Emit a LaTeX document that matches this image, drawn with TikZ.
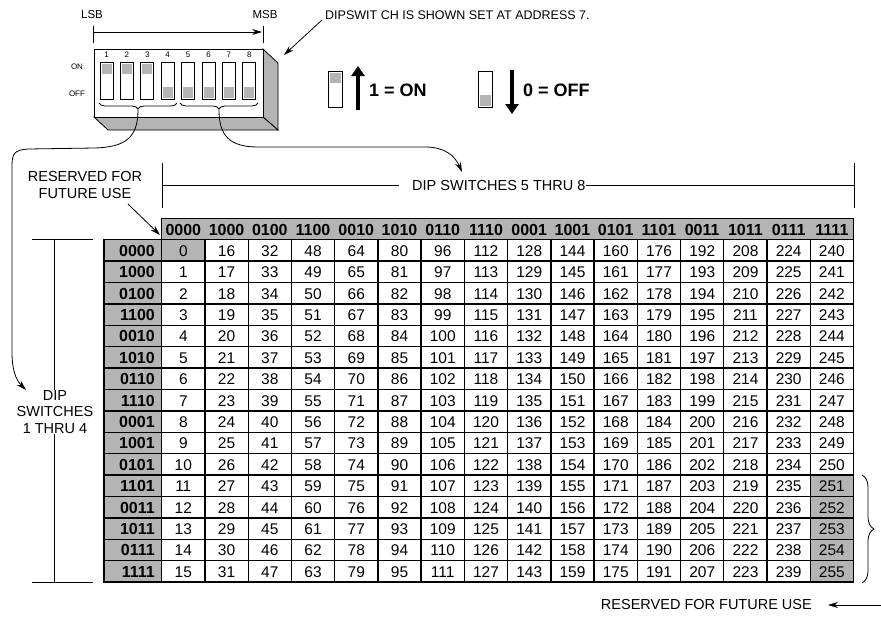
\documentclass[tikz,border=0pt]{standalone}
\usepackage{fontspec}
\setmainfont{Liberation Sans}
\usetikzlibrary{decorations.pathreplacing,arrows.meta,calc}
\definecolor{swgray}{RGB}{180,180,180}
\begin{document}
\begin{tikzpicture}[x=1pt,y=-1pt,
  tbl/.style={font=\fontsize{15.5}{16}\selectfont, inner sep=0pt, anchor=base},
  tblb/.style={font=\fontsize{16}{16}\selectfont\bfseries, inner sep=0pt, anchor=base},
  tiny/.style={font=\fontsize{8}{9}\selectfont, inner sep=0pt},
  lbl/.style={font=\fontsize{11.5}{13}\selectfont, inner sep=0pt},
  note/.style={font=\fontsize{12.5}{14}\selectfont, inner sep=0pt},
  anno/.style={font=\fontsize{14.5}{16.5}\selectfont, inner sep=0pt, align=center},
  legend/.style={font=\fontsize{18}{19}\selectfont\bfseries, inner sep=0pt},
  gridline/.style={line width=1.3pt},
  thinline/.style={line width=0.8pt},
  arr/.style={-{Stealth[length=10pt,width=6pt]}, line width=0.8pt},
  bigarr/.style={-{Triangle[length=10pt,width=13pt]}, line width=4.5pt}
]
\fill[white] (0,0) rectangle (881,616);
\useasboundingbox (0,0) rectangle (881,616);

% ---------------- DIP switch ----------------
\node[lbl] (lsb) at (92,15) {LSB};
\node[lbl] (msb) at (265,15) {MSB};
\draw[thinline] (93,26) -- (93,43);
\draw[thinline] (263,26) -- (263,43);
\coordinate (ab1) at (93,32);
\coordinate (ab2) at (262,32);
\draw[arr] (ab1) -- (ab2);

\filldraw[fill=swgray,draw=black,thinline] (263,49) -- (278,63) -- (278,130) -- (263,117) -- cycle;
\filldraw[fill=swgray,draw=black,thinline] (94,117) -- (263,117) -- (278,130) -- (108,130) -- cycle;
\filldraw[fill=white,draw=black,thinline] (94,49) rectangle (263,117);

\node[tiny] (on) at (77,67) {ON};
\node[tiny] (off) at (77,94) {OFF};
\foreach \k in {1,...,8}{
  \pgfmathsetmacro\xl{100+20.4*(\k-1)}
  \node[tiny] (n\k) at ({\xl+6.5},55) {\k};
  \draw[thinline,fill=white] (\xl,62) rectangle ({\xl+13},99);
}
\foreach \k in {1,2,3}{
  \pgfmathsetmacro\xl{100+20.4*(\k-1)}
  \fill[swgray] ({\xl+1.5},63.5) rectangle ({\xl+11.5},74);
}
\foreach \k in {4,...,8}{
  \pgfmathsetmacro\xl{100+20.4*(\k-1)}
  \fill[swgray] ({\xl+1.5},87) rectangle ({\xl+11.5},97.5);
}
\draw[thinline,decorate,decoration={brace,mirror,amplitude=6pt}] (99,103) -- (177,103);
\draw[thinline,decorate,decoration={brace,mirror,amplitude=6pt}] (180,103) -- (258,103);
\coordinate (b1) at (138,110);
\coordinate (b2) at (219,110);

% annotation
\node[note,anchor=west] (dsnote) at (325,15) {DIPSWIT CH IS SHOWN SET AT ADDRESS 7.};
\coordinate (dsa) at (322,20);
\coordinate (dsb) at (284,55);
\draw[arr] (dsa) -- (dsb);

% legend
\draw[thinline,fill=white] (328,71) rectangle (342,107);
\fill[swgray] (329.5,72.5) rectangle (340.5,83);
\coordinate (ua1) at (358,110);
\coordinate (ua2) at (358,66);
\draw[bigarr] (ua1) -- (ua2);
\node[legend,anchor=west] (one) at (369,90) {1 = ON};
\draw[thinline,fill=white] (478,71) rectangle (492,107);
\fill[swgray] (479.5,95) rectangle (490.5,105.5);
\coordinate (da1) at (512,70);
\coordinate (da2) at (512,114);
\draw[bigarr] (da1) -- (da2);
\node[legend,anchor=west] (zero) at (523,90) {0 = OFF};

% ---------------- brackets ----------------
\node[anno] (res1) at (85,185) {RESERVED FOR\\FUTURE USE};
\coordinate (ra1) at (128,204);
\coordinate (ra2) at (160,235);
\draw[arr] (ra1) -- (ra2);

\draw[thinline] (162,163) -- (162,208);
\draw[thinline] (854,163) -- (854,208);
\node[anno,anchor=west] (ds58) at (412,186) {DIP SWITCHES 5 THRU 8};
\draw[thinline] (162,185) -- (399,185);
\draw[thinline] (ds58.east |- 0,185) -- (854,185);

\node[anno] (ds14) at (55,412) {DIP\\SWITCHES\\1 THRU 4};
\draw[thinline] (32,239.5) -- (93,239.5);
\draw[thinline] (32,582) -- (93,582);
\draw[thinline] (54,239.5) -- (ds14.north -| 54,0);
\draw[thinline] (ds14.south -| 54,0) -- (54,582);

% curved connectors from switch braces
\coordinate (t14) at (26,390);
\coordinate (t58) at (462,172);
\draw[arr] (b1) .. controls (138,138) and (125,147) .. (95,148)
  -- (28,149) .. controls (14,150) and (12,154) .. (12,166)
  -- (12,352) .. controls (12,370) and (16,380) .. (t14);
\draw[arr] (b2) .. controls (219,136) and (230,147) .. (258,147)
  -- (425,147) .. controls (445,147) and (455,156) .. (t58);

% ---------------- table ----------------
\fill[swgray] (104,239.7) rectangle (161.7,582.1);
\fill[swgray] (161.7,218.3) rectangle (853.6,239.7);
\fill[swgray] (161.7,239.7) rectangle (204.94,261.1);
\fill[swgray] (810.36,475.1) rectangle (853.6,582.1);

\foreach \i in {1,...,15}
  \draw[gridline] (104,{239.7+21.4*\i}) -- (853.6,{239.7+21.4*\i});
\foreach \j in {1,...,15}
  \draw[gridline] ({161.7+43.24*\j},239.7) -- ({161.7+43.24*\j},582.1);
\draw[gridline] (161.7,218.3) rectangle (853.6,582.1);
\draw[gridline] (104,239.7) rectangle (853.6,582.1);

\foreach \j in {0,...,15}{
  \pgfmathtruncatemacro\ba{mod(\j,2)}
  \pgfmathtruncatemacro\bb{mod(floor(\j/2),2)}
  \pgfmathtruncatemacro\bc{mod(floor(\j/4),2)}
  \pgfmathtruncatemacro\bd{mod(floor(\j/8),2)}
  \node[tblb] (h\j) at ({183.32+43.24*\j},235) {\ba\bb\bc\bd};
}
\foreach \i in {0,...,15}{
  \pgfmathtruncatemacro\ba{mod(\i,2)}
  \pgfmathtruncatemacro\bb{mod(floor(\i/2),2)}
  \pgfmathtruncatemacro\bc{mod(floor(\i/4),2)}
  \pgfmathtruncatemacro\bd{mod(floor(\i/8),2)}
  \node[tblb,anchor=base east] (r\i) at (155,{256.3+21.4*\i}) {\ba\bb\bc\bd};
  \foreach \j in {0,...,15}{
    \pgfmathtruncatemacro\v{16*\j+\i}
    \node[tbl] (c\i-\j) at ({183.32+43.24*\j},{256.2+21.4*\i}) {\v};
  }
}

% right brace and note
\draw[thinline,decorate,decoration={brace,amplitude=12pt}] (862,475) -- (862,583);
\node[anno,anchor=east] (res2) at (812,605) {RESERVED FOR FUTURE USE};
\coordinate (rr1) at (881,605);
\coordinate (rr2) at (828,605);
\draw[arr] (rr1) -- (rr2);
\end{tikzpicture}
\end{document}
